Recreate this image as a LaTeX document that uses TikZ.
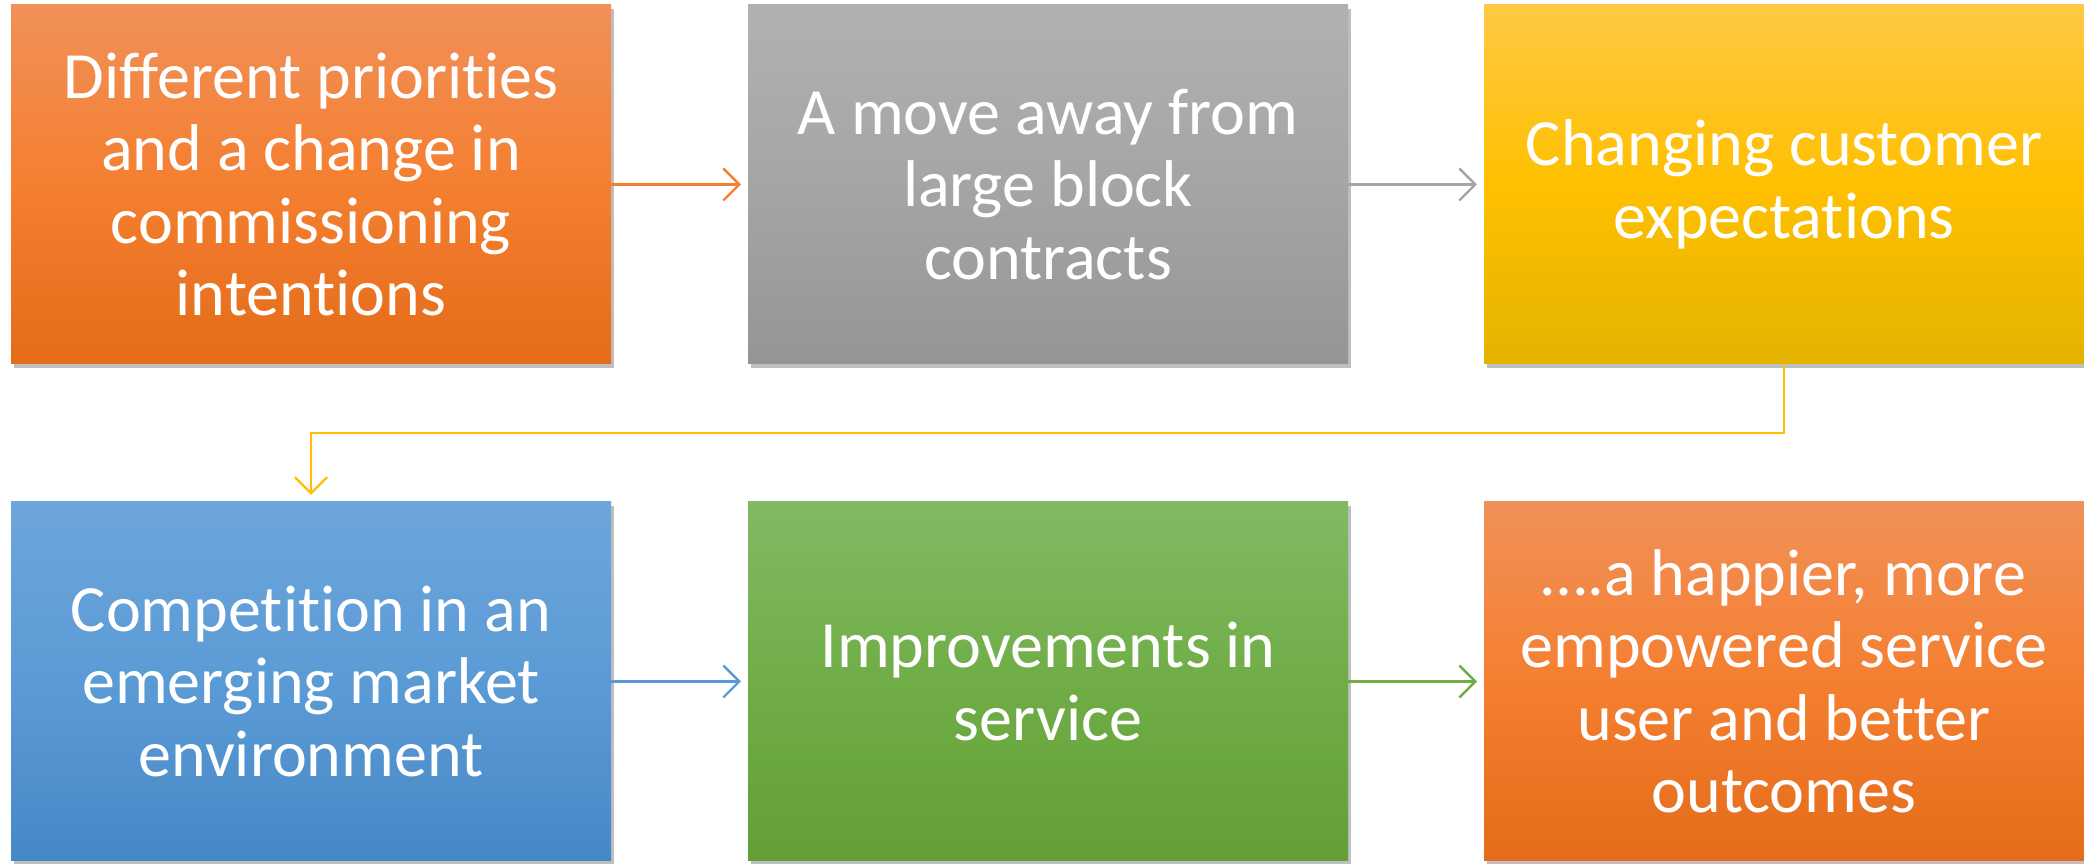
\documentclass[tikz,border=0pt]{standalone}
\usepackage{fontspec}
\setmainfont{Carlito}[Ligatures={NoCommon}]
\usetikzlibrary{positioning, arrows.meta, shadows}

\definecolor{orangeTop}{HTML}{F19058}
\definecolor{orangeMid}{HTML}{F47F30}
\definecolor{orangeBot}{HTML}{E46C1A}
\definecolor{grayTop}{HTML}{B1B1B1}
\definecolor{grayMid}{HTML}{A5A5A5}
\definecolor{grayBot}{HTML}{959595}
\definecolor{yellowTop}{HTML}{FFC845}
\definecolor{yellowMid}{HTML}{FFC000}
\definecolor{yellowBot}{HTML}{E3B300}
\definecolor{blueTop}{HTML}{6DA5DC}
\definecolor{blueMid}{HTML}{5B9BD5}
\definecolor{blueBot}{HTML}{4688C7}
\definecolor{greenTop}{HTML}{82B964}
\definecolor{greenMid}{HTML}{70AD47}
\definecolor{greenBot}{HTML}{62A035}

\tikzset{
  stage/.style={rectangle, minimum width=6cm, minimum height=3.59cm,
    inner sep=0pt, outer sep=0pt, align=center, text=white,
    font=\fontsize{18.8}{20.6}\selectfont,
    drop shadow={shadow xshift=0.03cm, shadow yshift=-0.04cm, opacity=0.25, fill=black}},
  orangebox/.style={stage, top color=orangeTop, bottom color=orangeBot, middle color=orangeMid},
  graybox/.style={stage, top color=grayTop, bottom color=grayBot, middle color=grayMid},
  yellowbox/.style={stage, top color=yellowTop, bottom color=yellowBot, middle color=yellowMid},
  bluebox/.style={stage, top color=blueTop, bottom color=blueBot, middle color=blueMid},
  greenbox/.style={stage, top color=greenTop, bottom color=greenBot, middle color=greenMid},
  link/.style={-{Straight Barb[length=1.6mm, width=3.2mm]}, line width=0.7pt, shorten >=0.7mm},
}

\begin{document}
\begin{tikzpicture}
\useasboundingbox (0,0) rectangle (20.84,8.64);
\node[orangebox] (priorities) at (3.11,6.795) {Different priorities\\and a change in\\commissioning\\intentions};
\node[graybox, right=1.37cm of priorities] (contracts) {A move away from\\large block\\contracts};
\node[yellowbox, right=1.36cm of contracts] (expect) {Changing customer\\expectations};
\node[bluebox, below=1.38cm of priorities] (market) {Competition in an\\emerging market\\environment};
\node[greenbox, right=1.37cm of market] (service) {Improvements in\\service};
\node[orangebox, right=1.36cm of service] (outcome) {\dots.a happier, more\\empowered service\\user and better\\outcomes};
\draw[link, orangeMid] (priorities.east) -- (contracts.west);
\draw[link, grayMid] (contracts.east) -- (expect.west);
\draw[link, yellowMid] (expect.south) -- ++(0,-0.69) -| (market.north);
\draw[link, blueMid] (market.east) -- (service.west);
\draw[link, greenMid] (service.east) -- (outcome.west);
\end{tikzpicture}
\end{document}
